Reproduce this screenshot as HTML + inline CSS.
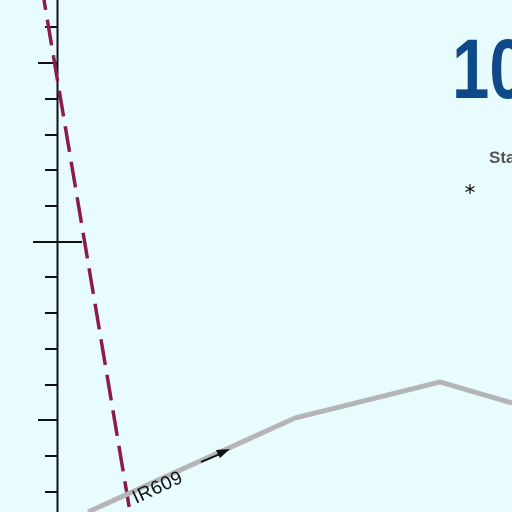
<!DOCTYPE html>
<html><head><meta charset="utf-8"><style>
html,body{margin:0;padding:0;background:#e8fbfd;}
svg{display:block}
</style></head><body>
<svg width="512" height="512" viewBox="0 0 512 512">
<rect width="512" height="512" fill="#e8fbfd"/>
<g stroke="#111" stroke-width="2">
<line x1="57.5" y1="0" x2="57.5" y2="512"/>
<g id="ticks"></g>
</g>
<line x1="44" y1="0" x2="130" y2="512" stroke="#8a1a50" stroke-width="3.5" stroke-dasharray="26,10" stroke-dashoffset="16"/>
<polyline points="88,512 295,418 440,382 512,403" fill="none" stroke="#b5b5b8" stroke-width="5"/>
<text x="0" y="0" transform="translate(136,504) rotate(-25)" font-family="Liberation Sans, sans-serif" font-size="19" letter-spacing="0.5" fill="#111">IR609</text>
<g>
<line x1="201" y1="462" x2="220" y2="454" stroke="#111" stroke-width="2"/>
<polygon points="230,449 216,450 220,458" fill="#111"/>
</g>
<text x="452" y="98" font-family="Liberation Sans, sans-serif" font-weight="bold" font-size="84" fill="#0e4a8a" transform="scale(0.8,1)" style="transform-origin:452px 98px">10</text>
<text x="489" y="163" font-family="Liberation Sans, sans-serif" font-weight="bold" font-size="17" fill="#555">Sta</text>
<g stroke="#111" stroke-width="1.2">
<line x1="470" y1="184" x2="470" y2="194"/>
<line x1="465.5" y1="186.5" x2="474.5" y2="191.5"/>
<line x1="465.5" y1="191.5" x2="474.5" y2="186.5"/>
</g>
</svg>
<script>
const tickYs=[27,63,99,135,170,206,242,277,313,349,385,420,456,492];
const g=document.getElementById('ticks');
tickYs.forEach(function(y){
 let x1=45,x2=57;
 if(y===63){x1=38;}
 if(y===420){x1=38;}
 if(y===242){x1=33;x2=82;}
 const l=document.createElementNS('http://www.w3.org/2000/svg','line');
 l.setAttribute('x1',x1);l.setAttribute('x2',x2);l.setAttribute('y1',y);l.setAttribute('y2',y);
 
 
 g.appendChild(l);
});
</script>
</body></html>
